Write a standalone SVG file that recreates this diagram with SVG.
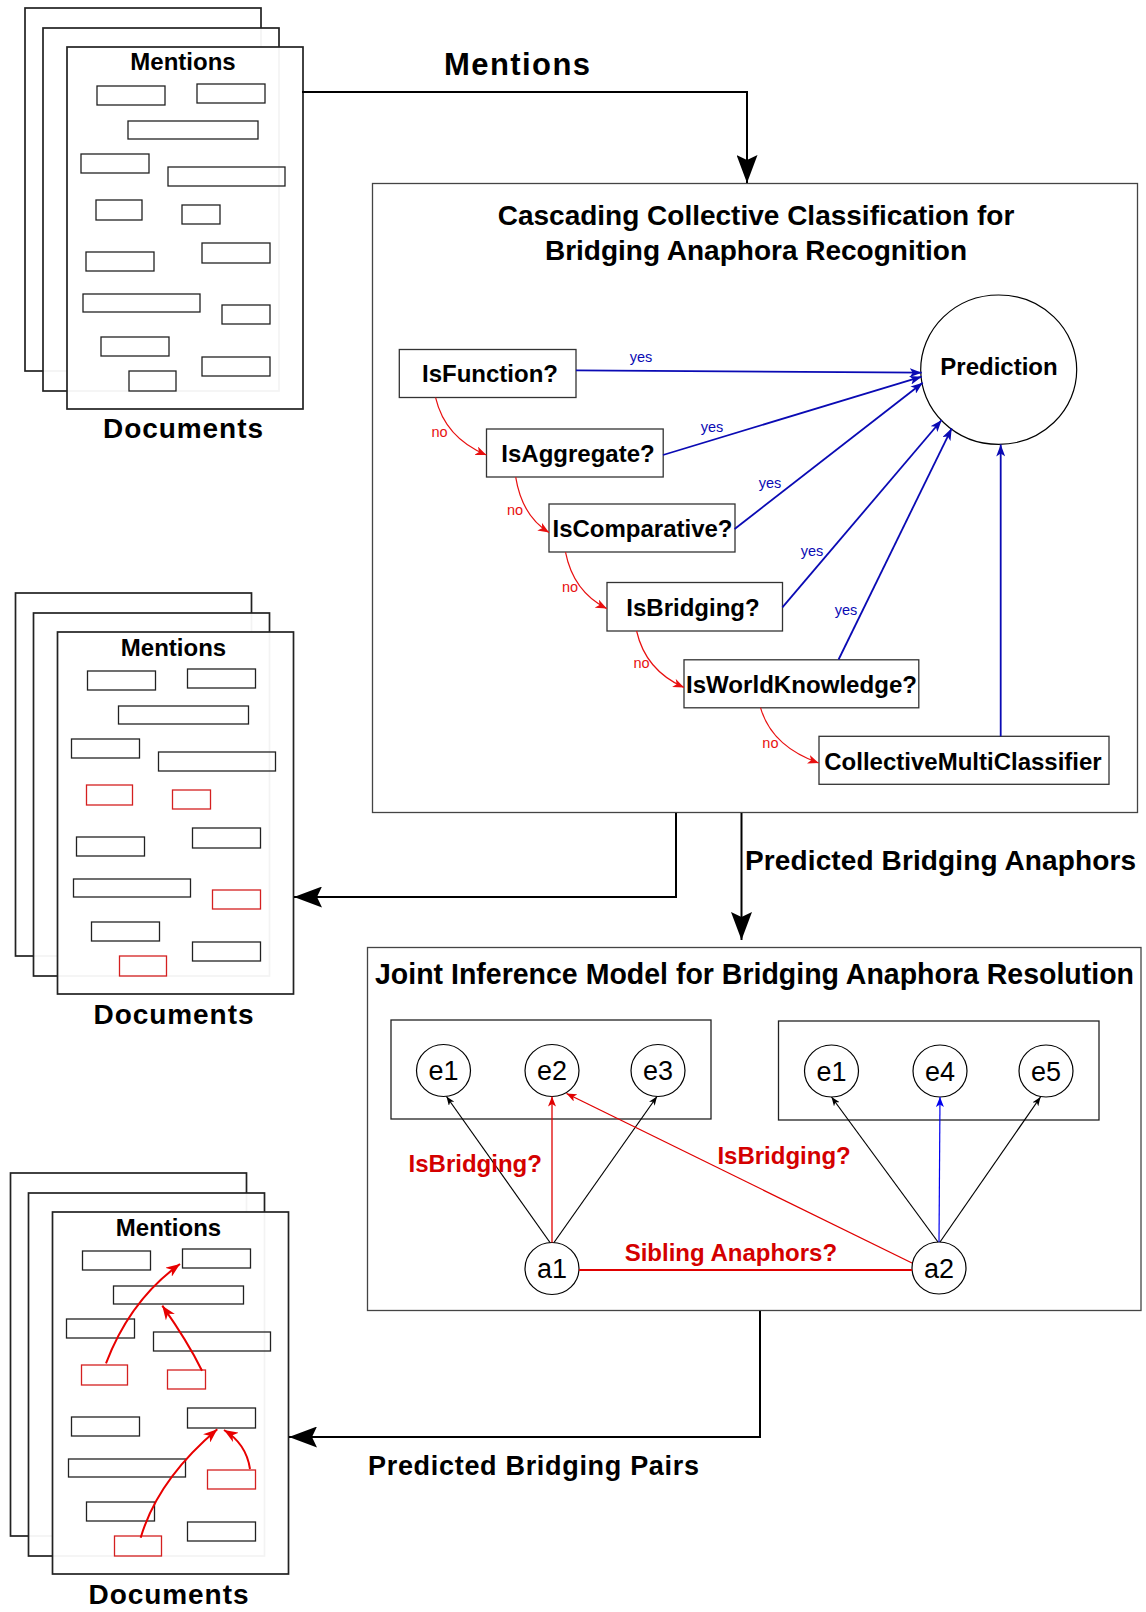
<svg xmlns="http://www.w3.org/2000/svg" width="1146" height="1612" viewBox="0 0 1146 1612">
<style>
text{font-family:"Liberation Sans",Arial,Helvetica,sans-serif;}
.page{fill:#fff;fill-opacity:0.95;stroke:#222;stroke-width:1.7;}
.m{fill:none;stroke:#222;stroke-width:1.3;}
.mr{fill:none;stroke:#d42020;stroke-width:1.3;}
.dm{font-size:24px;font-weight:bold;fill:#000;text-anchor:middle;}
.dl{font-size:28px;font-weight:bold;fill:#000;}
.box{fill:#fff;stroke:#444;stroke-width:1.3;}
.nbox{fill:#fff;stroke:#333;stroke-width:1.3;}
.nl{font-size:24px;font-weight:bold;fill:#000;text-anchor:middle;}
.title{font-size:28px;font-weight:bold;fill:#000;text-anchor:middle;}
.big{font-weight:bold;fill:#000;}
.thick{fill:none;stroke:#000;stroke-width:2;marker-end:url(#bigArr);}
.yes{fill:none;stroke:#0a0ab4;stroke-width:1.8;marker-end:url(#blueArr);}
.no{fill:none;stroke:#e81010;stroke-width:1.2;marker-end:url(#redArr);}
.yl{font-size:14.5px;fill:#0a0ab4;text-anchor:middle;}
.nol{font-size:14.5px;fill:#e81010;text-anchor:middle;}
.circ{fill:#fff;stroke:#000;stroke-width:1.2;}
.cl{font-size:27px;fill:#000;text-anchor:middle;}
.jb{fill:none;stroke:#000;stroke-width:1.2;marker-end:url(#smallBlk);}
.jr{fill:none;stroke:#e00000;stroke-width:1.3;marker-end:url(#smallRed);}
.jbl{fill:none;stroke:#0000ee;stroke-width:1.2;marker-end:url(#smallBlue);}
.rl{font-size:24px;font-weight:bold;fill:#d40000;}
.da{fill:none;stroke:#e80000;stroke-width:2;marker-end:url(#docArr);}
</style>
<defs>
<marker id="bigArr" markerUnits="userSpaceOnUse" markerWidth="28" markerHeight="21" refX="28" refY="10.5" orient="auto" viewBox="0 0 28 21"><path d="M0,0 L28,10.5 L0,21 L5,10.5 z" fill="#000"/></marker>
<marker id="blueArr" markerUnits="userSpaceOnUse" markerWidth="12" markerHeight="9" refX="12" refY="4.5" orient="auto" viewBox="0 0 12 9"><path d="M0,0 L12,4.5 L0,9 L3,4.5 z" fill="#0a0ab4"/></marker>
<marker id="redArr" markerUnits="userSpaceOnUse" markerWidth="11" markerHeight="9" refX="11" refY="4.5" orient="auto" viewBox="0 0 11 9"><path d="M0,0 L11,4.5 L0,9 L3,4.5 z" fill="#e81010"/></marker>
<marker id="smallBlk" markerUnits="userSpaceOnUse" markerWidth="9" markerHeight="7" refX="9" refY="3.5" orient="auto" viewBox="0 0 9 7"><path d="M0,0 L9,3.5 L0,7 L2.5,3.5 z" fill="#000"/></marker>
<marker id="smallRed" markerUnits="userSpaceOnUse" markerWidth="10" markerHeight="8" refX="10" refY="4" orient="auto" viewBox="0 0 10 8"><path d="M0,0 L10,4 L0,8 L2.5,4 z" fill="#e00000"/></marker>
<marker id="smallBlue" markerUnits="userSpaceOnUse" markerWidth="10" markerHeight="8" refX="10" refY="4" orient="auto" viewBox="0 0 10 8"><path d="M0,0 L10,4 L0,8 L2.5,4 z" fill="#0000ee"/></marker>
<marker id="docArr" markerUnits="userSpaceOnUse" markerWidth="14" markerHeight="11" refX="14" refY="5.5" orient="auto" viewBox="0 0 14 11"><path d="M0,0 L14,5.5 L0,11 L4,5.5 z" fill="#e80000"/></marker>
</defs>
<rect x="0" y="0" width="1146" height="1612" fill="#fff"/>

<!-- Documents 1 -->
<g id="doc1">
<rect class="page" x="25" y="8" width="236" height="363"/>
<rect class="page" x="43" y="28" width="236" height="363"/>
<rect class="page" x="67" y="47" width="236" height="362"/>
<text class="dm" x="183" y="70">Mentions</text>
<rect class="m" x="97" y="86" width="68" height="19"/>
<rect class="m" x="197" y="84" width="68" height="19"/>
<rect class="m" x="128" y="121" width="130" height="18"/>
<rect class="m" x="81" y="154" width="68" height="19"/>
<rect class="m" x="168" y="167" width="117" height="19"/>
<rect class="m" x="96" y="200" width="46" height="20"/>
<rect class="m" x="182" y="205" width="38" height="19"/>
<rect class="m" x="86" y="252" width="68" height="19"/>
<rect class="m" x="202" y="243" width="68" height="20"/>
<rect class="m" x="83" y="294" width="117" height="18"/>
<rect class="m" x="222" y="305" width="48" height="19"/>
<rect class="m" x="101" y="337" width="68" height="19"/>
<rect class="m" x="202" y="357" width="68" height="19"/>
<rect class="m" x="129" y="371" width="47" height="20"/>
<text class="dl" x="103" y="438" textLength="160" lengthAdjust="spacing">Documents</text>
</g>

<!-- Documents 2 -->
<g id="doc2" transform="translate(-9.5,585)">
<rect class="page" x="25" y="8" width="236" height="363"/>
<rect class="page" x="43" y="28" width="236" height="363"/>
<rect class="page" x="67" y="47" width="236" height="362"/>
<text class="dm" x="183" y="71">Mentions</text>
<rect class="m" x="97" y="86" width="68" height="19"/>
<rect class="m" x="197" y="84" width="68" height="19"/>
<rect class="m" x="128" y="121" width="130" height="18"/>
<rect class="m" x="81" y="154" width="68" height="19"/>
<rect class="m" x="168" y="167" width="117" height="19"/>
<rect class="mr" x="96" y="200" width="46" height="20"/>
<rect class="mr" x="182" y="205" width="38" height="19"/>
<rect class="m" x="86" y="252" width="68" height="19"/>
<rect class="m" x="202" y="243" width="68" height="20"/>
<rect class="m" x="83" y="294" width="117" height="18"/>
<rect class="mr" x="222" y="305" width="48" height="19"/>
<rect class="m" x="101" y="337" width="68" height="19"/>
<rect class="m" x="202" y="357" width="68" height="19"/>
<rect class="mr" x="129" y="371" width="47" height="20"/>
<text class="dl" x="103" y="439" textLength="160" lengthAdjust="spacing">Documents</text>
</g>

<!-- Documents 3 -->
<g id="doc3" transform="translate(-14.5,1165)">
<rect class="page" x="25" y="8" width="236" height="363"/>
<rect class="page" x="43" y="28" width="236" height="363"/>
<rect class="page" x="67" y="47" width="236" height="362"/>
<text class="dm" x="183" y="71">Mentions</text>
<rect class="m" x="97" y="86" width="68" height="19"/>
<rect class="m" x="197" y="84" width="68" height="19"/>
<rect class="m" x="128" y="121" width="130" height="18"/>
<rect class="m" x="81" y="154" width="68" height="19"/>
<rect class="m" x="168" y="167" width="117" height="19"/>
<rect class="mr" x="96" y="200" width="46" height="20"/>
<rect class="mr" x="182" y="205" width="38" height="19"/>
<rect class="m" x="86" y="252" width="68" height="19"/>
<rect class="m" x="202" y="243" width="68" height="20"/>
<rect class="m" x="83" y="294" width="117" height="18"/>
<rect class="mr" x="222" y="305" width="48" height="19"/>
<rect class="m" x="101" y="337" width="68" height="19"/>
<rect class="m" x="202" y="357" width="68" height="19"/>
<rect class="mr" x="129" y="371" width="47" height="20"/>
<text class="dl" x="103" y="439" textLength="160" lengthAdjust="spacing">Documents</text>
<path class="da" d="M120.5,198.3 Q144.8,134.7 194.5,99"/>
<path class="da" d="M216.5,205.7 Q202.3,176.8 176.8,140.7"/>
<path class="da" d="M155.2,372.7 Q172.2,314.8 231.8,264.3"/>
<path class="da" d="M264.5,304 Q260.8,278.8 238.5,265"/>
</g>

<!-- Cascading box -->
<g id="cascade">
<rect class="box" x="372.5" y="183.5" width="765" height="629"/>
<text class="title" x="756" y="225">Cascading Collective Classification for</text>
<text class="title" x="756" y="260">Bridging Anaphora Recognition</text>
</g>
<g id="prediction">
<ellipse class="circ" cx="998.7" cy="369.7" rx="78" ry="74.7" stroke-width="1"/>
<text class="nl" x="999" y="375">Prediction</text>
</g>
<g id="isFunction">
<rect class="nbox" x="399.3" y="349.5" width="176.7" height="48"/>
<text class="nl" x="490" y="382">IsFunction?</text>
</g>
<g id="isAggregate">
<rect class="nbox" x="486.5" y="429" width="176.7" height="48"/>
<text class="nl" x="578" y="461.5">IsAggregate?</text>
</g>
<g id="isComparative">
<rect class="nbox" x="549" y="504" width="186" height="48"/>
<text class="nl" x="642.5" y="537">IsComparative?</text>
</g>
<g id="isBridging">
<rect class="nbox" x="607" y="582.5" width="175.5" height="48.5"/>
<text class="nl" x="693" y="615.5">IsBridging?</text>
</g>
<g id="isWorldKnowledge">
<rect class="nbox" x="684" y="659.8" width="234.8" height="48"/>
<text class="nl" x="801.5" y="693" textLength="231" lengthAdjust="spacingAndGlyphs">IsWorldKnowledge?</text>
</g>
<g id="collectiveMultiClassifier">
<rect class="nbox" x="819" y="736.3" width="290" height="48"/>
<text class="nl" x="963" y="770">CollectiveMultiClassifier</text>
</g>

<!-- Joint inference box -->
<g id="joint">
<rect class="box" x="367.5" y="947.5" width="773.5" height="363"/>
<text class="big" x="375" y="984" font-size="29" textLength="759" lengthAdjust="spacingAndGlyphs">Joint Inference Model for Bridging Anaphora Resolution</text>
<rect class="m" x="391" y="1020" width="320" height="99" stroke-width="1.5"/>
<rect class="m" x="778.5" y="1021" width="320.5" height="99" stroke-width="1.5"/>
</g>
<g id="e1a"><ellipse class="circ" cx="443.5" cy="1070.5" rx="27" ry="26"/><text class="cl" x="443.5" y="1080">e1</text></g>
<g id="e2"><ellipse class="circ" cx="552" cy="1070.5" rx="27" ry="26"/><text class="cl" x="552" y="1080">e2</text></g>
<g id="e3"><ellipse class="circ" cx="658" cy="1070.5" rx="27" ry="26"/><text class="cl" x="658" y="1080">e3</text></g>
<g id="e1b"><ellipse class="circ" cx="831.5" cy="1071" rx="27" ry="26"/><text class="cl" x="831.5" y="1080.5">e1</text></g>
<g id="e4"><ellipse class="circ" cx="940" cy="1071" rx="27" ry="26"/><text class="cl" x="940" y="1080.5">e4</text></g>
<g id="e5"><ellipse class="circ" cx="1046" cy="1071" rx="27" ry="26"/><text class="cl" x="1046" y="1080.5">e5</text></g>
<g id="a1"><ellipse class="circ" cx="552" cy="1268.5" rx="27" ry="26"/><text class="cl" x="552" y="1278">a1</text></g>
<g id="a2"><ellipse class="circ" cx="939" cy="1268" rx="27" ry="26"/><text class="cl" x="939" y="1277.5">a2</text></g>

<!-- Connectors -->
<g id="connectors">
<path class="thick" d="M302,92 H747 V183"/>
<text class="big" x="444" y="75" font-size="31" textLength="146" lengthAdjust="spacing">Mentions</text>
<path class="thick" d="M676,813 V897 H294"/>
<path class="thick" d="M741.5,813 V940"/>
<text class="big" x="745" y="870" font-size="28" textLength="391" lengthAdjust="spacing">Predicted Bridging Anaphors</text>
<path class="thick" d="M760,1311 V1437 H289"/>
<text class="big" x="368" y="1475" font-size="27" textLength="331" lengthAdjust="spacing">Predicted Bridging Pairs</text>

<path class="yes" d="M576,370.3 L921.7,372.7"/>
<path class="yes" d="M663,455 L921.7,376.7"/>
<path class="yes" d="M734.6,529 L922.7,382.7"/>
<path class="yes" d="M782.4,607.4 L941.7,420"/>
<path class="yes" d="M838.6,659.5 L951.7,428.3"/>
<path class="yes" d="M1000.7,736.3 V444.5"/>
<text class="yl" x="641" y="362">yes</text>
<text class="yl" x="712" y="432">yes</text>
<text class="yl" x="770" y="488">yes</text>
<text class="yl" x="812" y="555.5">yes</text>
<text class="yl" x="846" y="615">yes</text>

<path class="no" d="M435.6,397.6 Q445,437.7 486.4,455"/>
<path class="no" d="M515.7,477.2 Q522,516 549,532.4"/>
<path class="no" d="M565.5,552.2 Q573.3,591.7 606.7,608.6"/>
<path class="no" d="M636.6,631 Q645.6,670.5 684,687.4"/>
<path class="no" d="M760.5,707.7 Q771.6,746.4 818.7,763"/>
<text class="nol" x="439.6" y="437">no</text>
<text class="nol" x="515" y="515">no</text>
<text class="nol" x="570" y="591.6">no</text>
<text class="nol" x="641.6" y="668">no</text>
<text class="nol" x="770.4" y="747.5">no</text>

<path class="jb" d="M550,1242.5 L446.5,1096.5"/>
<path class="jr" d="M552,1242.5 L552,1096.5"/>
<path class="jb" d="M554,1242.5 L657,1096.5"/>
<path class="jb" d="M938,1242 L831.5,1097"/>
<path class="jbl" d="M939,1242 L940,1097"/>
<path class="jb" d="M940,1242 L1040.5,1097"/>
<path class="jr" d="M912,1263 L566.5,1093.5"/>
<path d="M579,1270 H912" fill="none" stroke="#e00000" stroke-width="2.2"/>
<text class="rl" x="408.6" y="1172">IsBridging?</text>
<text class="rl" x="717.4" y="1164">IsBridging?</text>
<text class="rl" x="624.7" y="1260.5">Sibling Anaphors?</text>
</g>
</svg>
